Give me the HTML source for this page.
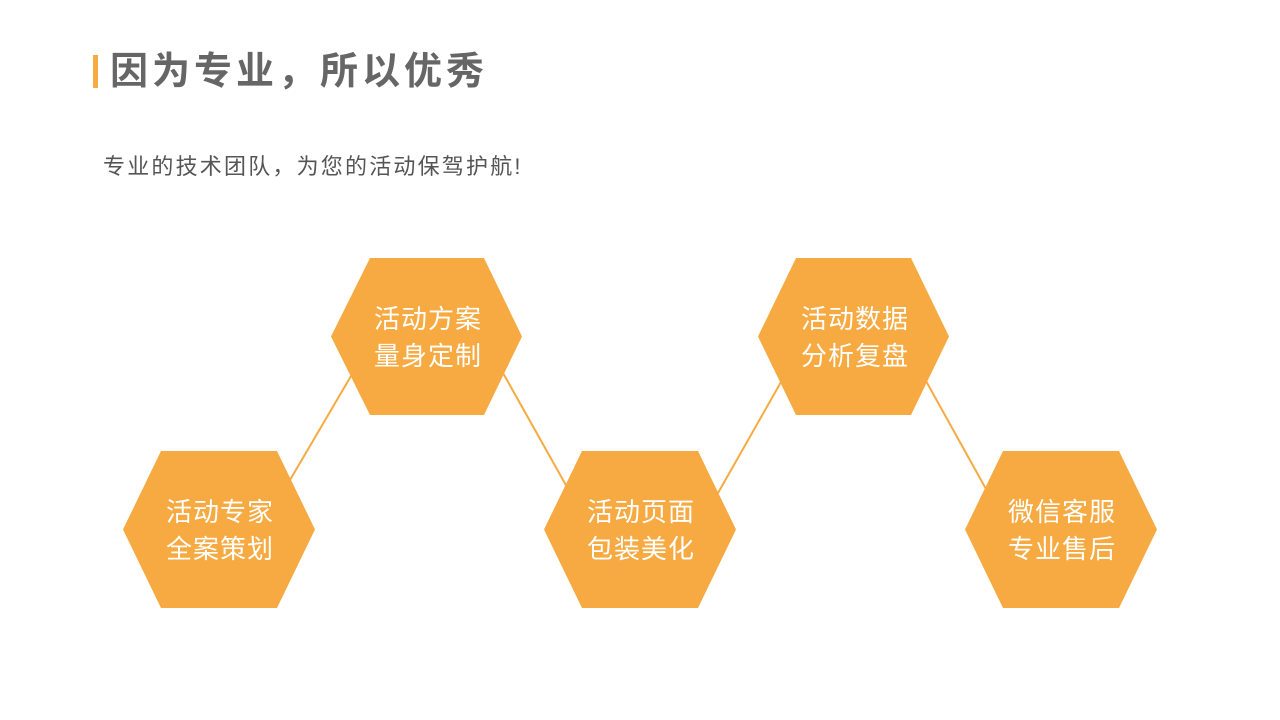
<!DOCTYPE html>
<html><head><meta charset="utf-8"><style>
body{margin:0;width:1280px;height:720px;background:#fff;overflow:hidden;font-family:"Liberation Sans","Noto Sans CJK SC",sans-serif}
.t{position:absolute;left:110px;top:46px;font-size:38px;font-weight:bold;color:#666;line-height:52px;letter-spacing:4px}
.bar{position:absolute;left:93px;top:55px;width:5px;height:33px;background:#F5AB41}
.s{position:absolute;left:103px;top:152px;font-size:22px;color:#555;line-height:30px;letter-spacing:2.2px}
</style></head><body>
<div class="bar"></div>
<div class="t">因为专业，所以优秀</div>
<div class="s">专业的技术团队，为您的活动保驾护航!</div>
<svg width="1280" height="720" style="position:absolute;left:0;top:0" font-family="Liberation Sans, Noto Sans CJK SC, sans-serif">
<g stroke="#F5AB41" stroke-width="2">
<line x1="290" y1="480" x2="351" y2="376"/>
<line x1="503" y1="373" x2="567" y2="487"/>
<line x1="718" y1="493" x2="781" y2="382"/>
<line x1="926" y1="381" x2="986" y2="489"/>
</g>
<g fill="#F6AA41">
<polygon points="161,451 277,451 315,529.5 277,608 161,608 123,529.5"/>
<polygon points="370,258 484,258 522,336.5 484,415 370,415 331,336.5"/>
<polygon points="582,451 698,451 736,529.5 698,608 582,608 544,529.5"/>
<polygon points="796,258 911,258 949,336.5 911,415 796,415 758,336.5"/>
<polygon points="1003,451 1119,451 1157,529.5 1119,608 1003,608 965,529.5"/>
</g>
<g fill="#fff" font-size="26" text-anchor="middle" letter-spacing="1">
<text x="220" y="521">活动专家</text><text x="220" y="558">全案策划</text>
<text x="428" y="328">活动方案</text><text x="428" y="365">量身定制</text>
<text x="641" y="521">活动页面</text><text x="641" y="558">包装美化</text>
<text x="855" y="328">活动数据</text><text x="855" y="365">分析复盘</text>
<text x="1062" y="521">微信客服</text><text x="1062" y="558">专业售后</text>
</g>
</svg>
</body></html>
